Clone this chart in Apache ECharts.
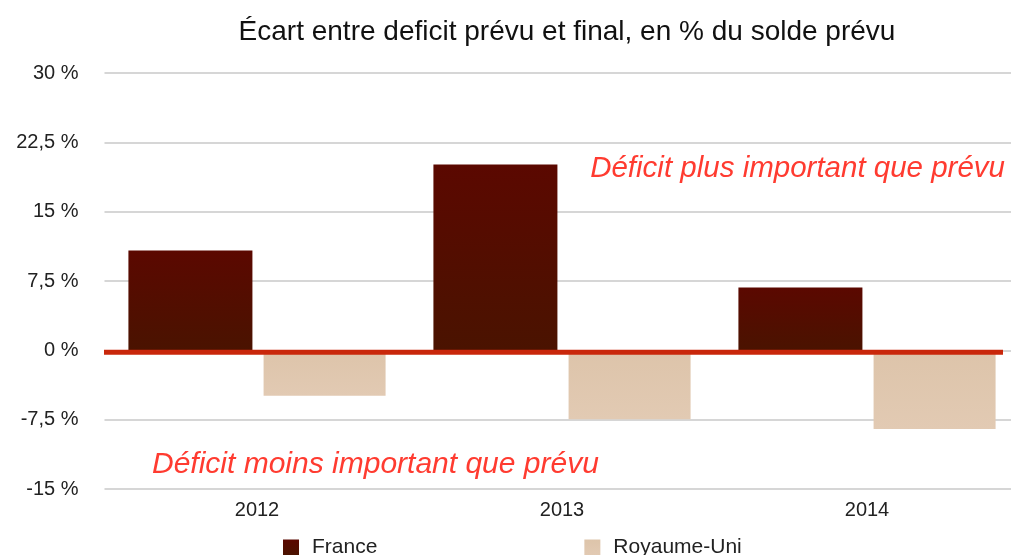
<!DOCTYPE html>
<html><head><meta charset="utf-8">
<script src="https://cdn.jsdelivr.net/npm/echarts@6/dist/echarts.min.js"></script>
<style>html,body{margin:0;padding:0;background:#fff}#c{width:1011px;height:555px}</style>
</head><body><div id="c"></div>
<script>
const categories = ['2012', '2013', '2014'];
const france = [10.8, 20.1, 6.8];
const royaumeUni = [-4.9, -7.45, -8.5];
const yTicks = [-15, -7.5, 0, 7.5, 15, 22.5, 30];
const font = '"Liberation Sans", Arial, sans-serif';
const chart = echarts.init(document.getElementById('c'));
chart.setOption({
  animation: false,
  title: {
    text: 'Écart entre deficit prévu et final, en % du solde prévu',
    left: 562, top: 13, textAlign: 'center',
    textStyle: {fontFamily: font, fontSize: 28, fontWeight: 'normal', color: '#111'}
  },
  grid: {left: 104.5, width: 915, top: 73, bottom: 66, outerBoundsMode: 'none', containLabel: false},
  legend: {
    data: ['France', 'Royaume-Uni'],
    left: 283, top: 537, padding: 0, itemGap: 207, itemWidth: 16, itemHeight: 16,
    icon: 'rect',
    textStyle: {fontFamily: font, fontSize: 21, color: '#222', padding: [0, 0, 0, 8]}
  },
  xAxis: {
    type: 'category', data: categories,
    axisLine: {show: false}, axisTick: {show: false},
    axisLabel: {fontFamily: font, fontSize: 20, color: '#222', margin: 11}
  },
  yAxis: {
    type: 'value', min: yTicks[0], max: yTicks[yTicks.length - 1], interval: 7.5,
    axisLabel: {
      fontFamily: font, fontSize: 20, color: '#222', margin: 26,
      formatter: v => String(v).replace('.', ',') + ' %'
    },
    splitLine: {lineStyle: {color: '#c8c8c8', width: 1.5}}
  },
  series: [
    {
      name: 'France', type: 'bar', data: france, barWidth: 124, barGap: '9%',
      itemStyle: {color: new echarts.graphic.LinearGradient(0, 0, 0, 1, [
        {offset: 0, color: '#5b0800'}, {offset: 1, color: '#4a1300'}])}
    },
    {
      name: 'Royaume-Uni', type: 'bar', data: royaumeUni, barWidth: 122,
      itemStyle: {color: new echarts.graphic.LinearGradient(0, 0, 0, 1, [
        {offset: 0, color: '#ddc4aa'}, {offset: 1, color: '#e2cab3'}])}
    }
  ]
});
const y0 = chart.convertToPixel({yAxisIndex: 0}, 0);
chart.setOption({
  graphic: [
    {type: 'line', z: 100, shape: {x1: 104, y1: y0 + 2, x2: 1003, y2: y0 + 2},
      style: {stroke: '#c9270b', lineWidth: 5}},
    {type: 'text', right: 6, top: 154, style: {text: 'Déficit plus important que prévu',
      font: 'italic 29.5px ' + font, fill: '#ff3b30'}},
    {type: 'text', left: 152, top: 450, style: {text: 'Déficit moins important que prévu',
      font: 'italic 30px ' + font, fill: '#ff3b30'}}
  ]
});
</script></body></html>
